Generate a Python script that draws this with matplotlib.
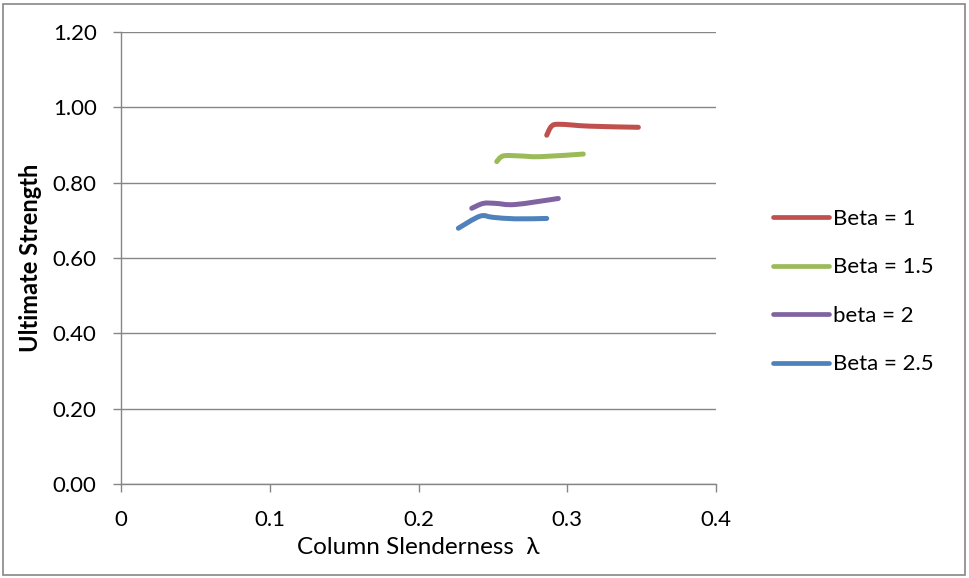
import numpy as np
import matplotlib
matplotlib.use("Agg")
import matplotlib.pyplot as plt
from matplotlib.path import Path
from matplotlib.patches import PathPatch, Rectangle
from matplotlib.lines import Line2D

plt.rcParams['font.family'] = ['Lato', 'DejaVu Sans']

# Column slenderness (x) and ultimate strength (y) for each beta
beta1_x = [0.2862, 0.2895, 0.2950, 0.3150, 0.3478]
beta1_y = [0.926, 0.950, 0.955, 0.950, 0.947]

beta15_x = [0.2526, 0.2570, 0.2680, 0.2817, 0.3108]
beta15_y = [0.856, 0.871, 0.871, 0.869, 0.876]

beta2_x = [0.2358, 0.2436, 0.2520, 0.2650, 0.2940]
beta2_y = [0.732, 0.745, 0.745, 0.742, 0.758]

beta25_x = [0.2268, 0.2413, 0.2500, 0.2650, 0.2862]
beta25_y = [0.679, 0.711, 0.708, 0.704, 0.705]

labels = ["Beta = 1", "Beta = 1.5", "beta = 2", "Beta = 2.5"]
colors = ["#C0504D", "#9BBB59", "#8064A2", "#4F81BD"]
series = [(beta1_x, beta1_y), (beta15_x, beta15_y),
          (beta2_x, beta2_y), (beta25_x, beta25_y)]

x_ticks = [0, 0.1, 0.2, 0.3, 0.4]
x_ticklabels = ["0", "0.1", "0.2", "0.3", "0.4"]
y_ticks = [0.0, 0.2, 0.4, 0.6, 0.8, 1.0, 1.2]


def smooth_path(xs, ys):
    """Catmull-Rom style smoothed path through the points as cubic Beziers."""
    pts = np.column_stack([xs, ys])
    n = len(pts)
    verts = [pts[0]]
    codes = [Path.MOVETO]
    for i in range(n - 1):
        p0 = pts[i - 1] if i > 0 else pts[i]
        p1 = pts[i]
        p2 = pts[i + 1]
        p3 = pts[i + 2] if i + 2 < n else pts[i + 1]
        c1 = p1 + (p2 - p0) / 6.0
        c2 = p2 - (p3 - p1) / 6.0
        verts += [c1, c2, p2]
        codes += [Path.CURVE4] * 3
    return Path(verts, codes)


fig = plt.figure(figsize=(9.69, 5.78), dpi=100)
ax = fig.add_axes([121 / 969, 1 - 484 / 578, (716 - 121) / 969, (484 - 32) / 578])

grid_col = "#868686"
for (xs, ys), c, lab in zip(series, colors, labels):
    patch = PathPatch(smooth_path(xs, ys), facecolor="none", edgecolor=c,
                      lw=3.6, capstyle="round", joinstyle="round", zorder=3)
    ax.add_patch(patch)

ax.set_xlim(0, 0.4)
ax.set_ylim(0, 1.2)
ax.set_xticks(x_ticks)
ax.set_xticklabels(x_ticklabels)
ax.set_yticks(y_ticks)
ax.set_yticklabels([f"{v:.2f}" for v in y_ticks])

ax.yaxis.grid(True, color=grid_col, lw=1.0)
ax.set_axisbelow(True)
for side in ["top", "right"]:
    ax.spines[side].set_visible(False)
for side in ["left", "bottom"]:
    ax.spines[side].set_color(grid_col)
    ax.spines[side].set_linewidth(1.0)

ax.tick_params(axis="both", colors=grid_col, labelcolor="black",
               labelsize=16, length=5.5, width=1.0, direction="out")
ax.tick_params(axis="x", pad=13)
ax.tick_params(axis="y", pad=12)

ax.set_xlabel("Column Slenderness  λ", fontsize=17.5)
ax.set_ylabel("Ultimate Strength", fontsize=17, fontweight="bold")
ax.xaxis.set_label_coords(0.5, -0.118)
ax.yaxis.set_label_coords(-0.132, 0.5)

handles = [Line2D([0], [0], color=c, lw=3.4, solid_capstyle="round") for c in colors]
leg = fig.legend(handles, labels, loc="upper left",
                 bbox_to_anchor=(753 / 969, 1 - 189 / 578), frameon=False,
                 fontsize=16, handlelength=2.5, handletextpad=0.18,
                 labelspacing=1.28)

# Outer chart border
fig.patches.append(Rectangle((3 / 969, 3 / 578), 962 / 969, 571 / 578,
                             transform=fig.transFigure, fill=False,
                             edgecolor="#868686", lw=1.2))

fig.savefig("out.png", dpi=100)
